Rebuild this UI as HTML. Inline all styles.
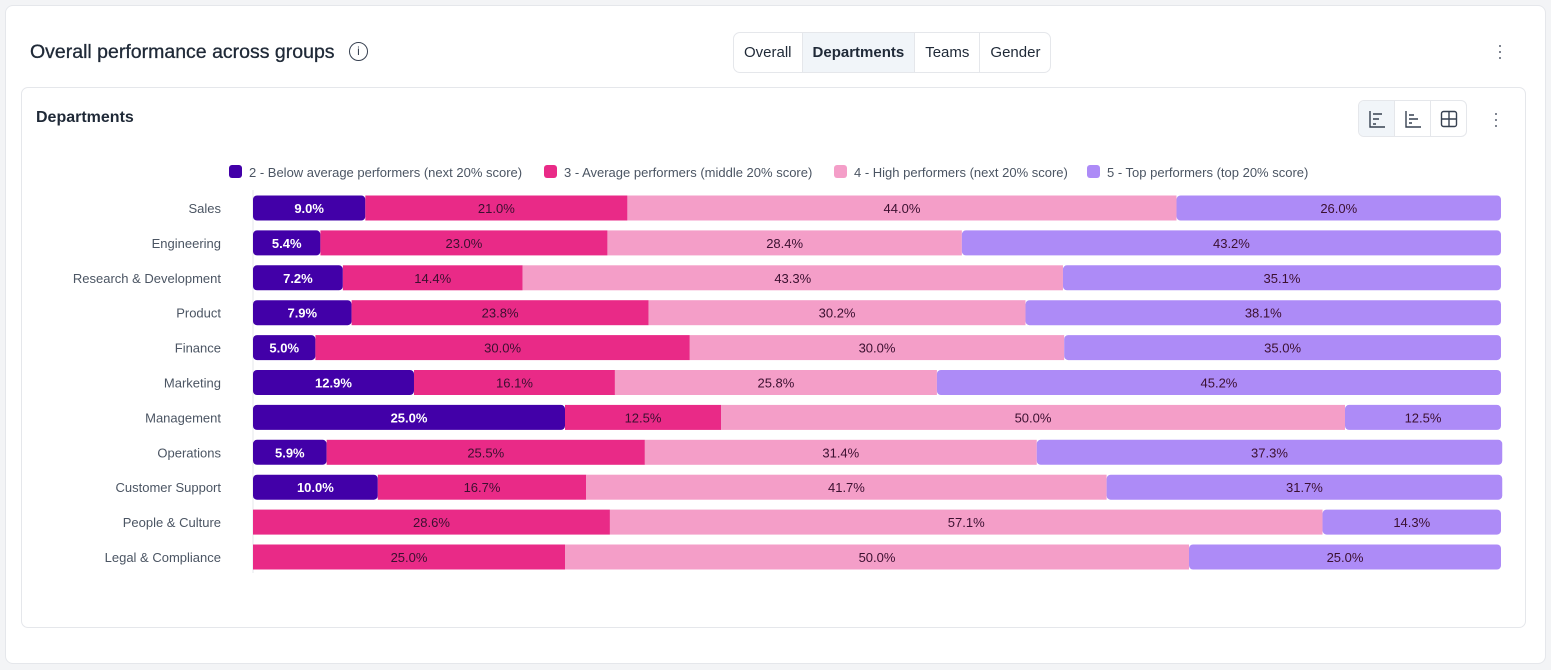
<!DOCTYPE html>
<html><head><meta charset="utf-8"><style>
body{margin:0;width:1551px;height:670px;background:#f3f4f6;font-family:"Liberation Sans",sans-serif;overflow:hidden;position:relative}
.outer{position:absolute;left:5px;top:5px;width:1539px;height:657px;background:#fff;border:1px solid #e5e7eb;border-radius:8px}
.title{position:absolute;left:30px;top:41px;font-size:19.5px;color:#1f2937;-webkit-text-stroke:0.3px #1f2937}
.info{position:absolute;left:349px;top:42px;width:17px;height:17px;border:1.5px solid #374151;border-radius:50%;font-size:12px;text-align:center;line-height:17px;color:#374151}
.tabs{position:absolute;left:733px;top:32px;height:39px;border:1px solid #e5e7eb;border-radius:7px;display:flex;overflow:hidden}
.tab{padding:0 10px;line-height:39px;font-size:15px;color:#1f2937;border-right:1px solid #e5e7eb}
.tab:last-child{border-right:none}
.tab.on{background:#f1f5f9;font-weight:bold}
.kebab{position:absolute;font-size:18px;color:#6b7280;line-height:6px;width:6px;text-align:center}
.inner{position:absolute;left:21px;top:87px;width:1503px;height:539px;border:1px solid #e5e7eb;border-radius:7px;background:#fff}
.sub{position:absolute;left:36px;top:109px;font-size:16px;font-weight:bold;color:#1f2937}
.vbtns{position:absolute;left:1358px;top:100px;height:35px;border:1px solid #e5e7eb;border-radius:6px;display:flex;overflow:hidden}
.vb{width:35px;height:35px;border-right:1px solid #e5e7eb;display:flex;align-items:center;justify-content:center}
.vb:last-child{border-right:none}
.vb.on{background:#f1f5f9}
</style></head><body>
<div class="outer"></div>
<div class="title">Overall performance across groups</div>
<div class="info">i</div>
<div class="tabs">
<div class="tab">Overall</div>
<div class="tab on">Departments</div>
<div class="tab">Teams</div>
<div class="tab">Gender</div>
</div>
<div class="kebab" style="left:1497px;top:42px">·<br>·<br>·</div>
<div class="inner"></div>
<div class="sub">Departments</div>
<div class="vbtns">
<div class="vb on"><svg width="18" height="18" fill="none" stroke="#374151" stroke-width="1.4"><path d="M2 1v16h15M5 4h9M5 9h6M5 14h3"/></svg></div>
<div class="vb"><svg width="18" height="18" fill="none" stroke="#374151" stroke-width="1.4"><path d="M2 1v16h15M5 5h5M5 9h9M5 13h3"/></svg></div>
<div class="vb"><svg width="18" height="18" fill="none" stroke="#374151" stroke-width="1.4"><rect x="1.5" y="1.5" width="15" height="15" rx="2"/><path d="M1.5 9h15M9 1.5v15"/></svg></div>
</div>
<div class="kebab" style="left:1493px;top:110px">·<br>·<br>·</div>
<svg id="chart" width="1551" height="670" style="position:absolute;left:0;top:0"></svg>
<script>
const categories=["Sales","Engineering","Research & Development","Product","Finance","Marketing","Management","Operations","Customer Support","People & Culture","Legal & Compliance"];
const seriesNames=["2 - Below average performers (next 20% score)","3 - Average performers (middle 20% score)","4 - High performers (next 20% score)","5 - Top performers (top 20% score)"];
const s2=[9.0,5.4,7.2,7.9,5.0,12.9,25.0,5.9,10.0,0,0];
const s3=[21.0,23.0,14.4,23.8,30.0,16.1,12.5,25.5,16.7,28.6,25.0];
const s4=[44.0,28.4,43.3,30.2,30.0,25.8,50.0,31.4,41.7,57.1,50.0];
const s5=[26.0,43.2,35.1,38.1,35.0,45.2,12.5,37.3,31.7,14.3,25.0];
const colors=["#4200a8","#e92a87","#f49ec8","#ad8bf7"];
const NS="http://www.w3.org/2000/svg";
const svg=document.getElementById('chart');
const x0=253,x1=1501,yTop=191,step=34.9,bh=25;
const xs=v=>v/100*(x1-x0);
const yc=i=>yTop+step*i+17;
function mk(t,a){const e=document.createElementNS(NS,t);for(const k in a)e.setAttribute(k,a[k]);svg.appendChild(e);return e;}
const lx=[229,544,834,1087];
seriesNames.forEach((n,i)=>{
 const r=mk('rect',{x:lx[i],y:165,width:13,height:13,rx:3,fill:colors[i]});
 
 
 const t=mk('text',{x:lx[i]+20,y:177,'font-size':13,fill:'#4b5563','font-family':'Liberation Sans, sans-serif'});
 t.textContent=n;
 
 
});
const ax=mk('line',{x1:x0,x2:x0,y1:190,y2:573,stroke:'#e5e7eb'});


const series=[s2,s3,s4,s5];
categories.forEach((c,i)=>{
 const t=mk('text',{x:221,y:yc(i)+5,'text-anchor':'end','font-size':13,fill:'#4b5563','font-family':'Liberation Sans, sans-serif'});
 t.textContent=c;
 
 
 let acc=0;
 series.forEach((s,j)=>{
  const v=s[i]; if(!v) return;
  const x=x0+xs(acc), w=xs(v); acc+=v;
  const r=mk('rect',{x:x,y:yc(i)-bh/2,width:w,height:bh,rx:(j==0||j==3)?4:0,fill:colors[j]});
  
  
  const l=mk('text',{x:x+w/2,y:yc(i)+5,'text-anchor':'middle','font-size':13,fill:j==0?'#fff':'#3b1030','font-weight':j==0?'bold':'normal','font-family':'Liberation Sans, sans-serif'});
  l.textContent=v.toFixed(1)+'%';
  
  
 });
});
</script>
</body></html>
